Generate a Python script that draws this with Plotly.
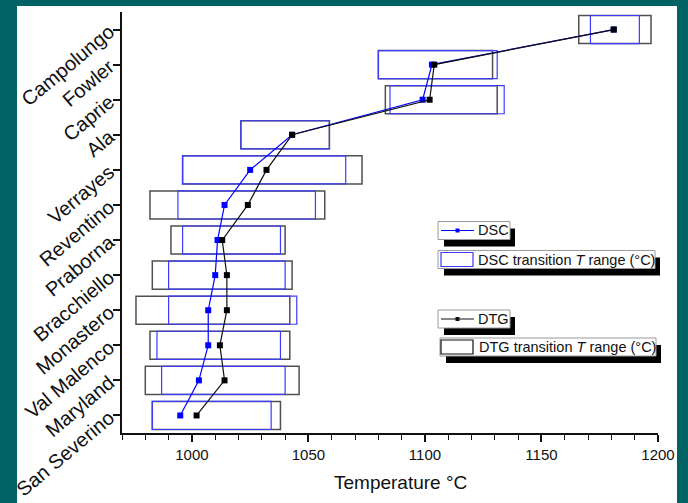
import plotly.graph_objects as go

# ---- data (bottom row first) ----
samples = ["San Severino", "Maryland", "Val Malenco", "Monastero", "Bracchiello",
           "Praborna", "Reventino", "Verrayes", "Ala", "Caprie", "Fowler", "Campolungo"]
dsc_peak = [995, 1003, 1007, 1007, 1010, 1011, 1014, 1025, 1043, 1099, 1103, 1181]
dtg_peak = [1002, 1014, 1012, 1015, 1015, 1013, 1024, 1032, 1043, 1102, 1104, 1181]
dsc_start = [983, 987, 985, 990, 990, 996, 994, 996, 1021, 1085, 1080, 1171]
dsc_end = [1034, 1040, 1038, 1045, 1040, 1038, 1053, 1066, 1059, 1134, 1131, 1192]
dtg_start = [983, 980, 982, 976, 983, 991, 982, 996, 1021, 1083, 1080, 1166]
dtg_end = [1038, 1046, 1042, 1042, 1043, 1040, 1057, 1073, 1059, 1131, 1129, 1197]
x_ticks = [1000, 1050, 1100, 1150, 1200]

FONT = "Liberation Sans, Arial, sans-serif"
TEAL = "#006262"
BLUE = "#0000ff"
BOXBLUE = "rgb(60,60,255)"
BOXGRAY = "#505050"

W, H = 688, 503
ML, MR, MT, MB = 122, 30, 12, 70
PW, PH = W - ML - MR, H - MT - MB


def px(x):
    return (x - ML) / PW


def py(y):
    return 1 - (y - MT) / PH


fig = go.Figure()

fig.add_trace(go.Bar(
    orientation="h", y=samples,
    x=[e - s for s, e in zip(dtg_start, dtg_end)], base=dtg_start,
    width=0.8, marker=dict(color="rgba(0,0,0,0)", line=dict(color=BOXGRAY, width=1.5)),
    name="DTG transition T range (°C)", showlegend=False))
fig.add_trace(go.Bar(
    orientation="h", y=samples,
    x=[e - s for s, e in zip(dsc_start, dsc_end)], base=dsc_start,
    width=0.8, marker=dict(color="rgba(0,0,0,0)", line=dict(color=BOXBLUE, width=1.2)),
    name="DSC transition T range (°C)", showlegend=False))
fig.add_trace(go.Scatter(
    x=dsc_peak, y=samples, mode="lines+markers", name="DSC",
    line=dict(color=BLUE, width=1.2),
    marker=dict(symbol="square", size=6, color=BLUE), showlegend=False))
fig.add_trace(go.Scatter(
    x=dtg_peak, y=samples, mode="lines+markers", name="DTG",
    line=dict(color="#111111", width=1.2),
    marker=dict(symbol="square", size=6, color="#000000"), showlegend=False))

shapes = []
# white page panel on teal background
shapes.append(dict(type="rect", xref="paper", yref="paper", layer="below",
                   x0=px(17), x1=px(677), y0=py(6), y1=py(520),
                   fillcolor="white", line=dict(width=0)))

annotations = []


def legend_box(x0, y0, x1, y1):
    shapes.append(dict(type="rect", xref="paper", yref="paper",
                       x0=px(x0 + 6), x1=px(x1 + 5), y0=py(y0 + 7), y1=py(y1 + 7),
                       fillcolor="black", line=dict(width=0)))
    shapes.append(dict(type="rect", xref="paper", yref="paper",
                       x0=px(x0), x1=px(x1), y0=py(y0), y1=py(y1),
                       fillcolor="white", line=dict(color="#9a9a9a", width=1)))


def legend_text(x, y, text):
    annotations.append(dict(xref="paper", yref="paper", x=px(x), y=py(y),
                            xanchor="left", yanchor="middle", showarrow=False,
                            text=text, font=dict(family=FONT, size=14.5, color="#111")))


def legend_line(y, color):
    shapes.append(dict(type="line", xref="paper", yref="paper",
                       x0=px(441), x1=px(474), y0=py(y), y1=py(y),
                       line=dict(color=color, width=1.2)))
    shapes.append(dict(type="rect", xref="paper", yref="paper",
                       x0=px(455.5), x1=px(459.5), y0=py(y - 2), y1=py(y + 2),
                       fillcolor=color, line=dict(width=0)))


def legend_rect(y0, y1, color):
    shapes.append(dict(type="rect", xref="paper", yref="paper",
                       x0=px(441), x1=px(473), y0=py(y0), y1=py(y1),
                       fillcolor="white", line=dict(color=color, width=1.2)))


# DSC
legend_box(438, 221.5, 510, 239.5)
legend_line(230.5, BLUE)
legend_text(476, 230.5, "DSC")
# DSC transition range
legend_box(438, 250.5, 655, 268.5)
legend_rect(252.5, 266.5, BOXBLUE)
legend_text(476, 259.5, "DSC transition <i>T</i> range (°C)")
# DTG
legend_box(438, 310, 510, 328)
legend_line(319, "#111111")
legend_text(476, 319, "DTG")
# DTG transition range
legend_box(440, 338, 656, 356)
legend_rect(340, 354, "#111111")
legend_text(477, 347, "DTG transition <i>T</i> range (°C)")

annotations.append(dict(xref="paper", yref="paper", x=px(400), y=py(482.5),
                        xanchor="center", yanchor="middle", showarrow=False,
                        text="Temperature °C", font=dict(family=FONT, size=19, color="#111")))

fig.update_layout(
    width=W, height=H,
    margin=dict(l=ML, r=MR, t=MT, b=MB),
    paper_bgcolor=TEAL, plot_bgcolor="white",
    barmode="overlay", showlegend=False,
    font=dict(family=FONT, color="#111"),
    shapes=shapes, annotations=annotations,
    xaxis=dict(range=[970, 1200], tickmode="array", tickvals=x_ticks,
               ticktext=[str(v) for v in x_ticks],
               showgrid=False, zeroline=False, showline=True, linecolor="#111",
               linewidth=1.5, ticks="outside", ticklen=7, tickwidth=1.5, tickcolor="#111",
               tickfont=dict(family=FONT, size=15, color="#111"),
               minor=dict(dtick=10, tick0=1000, ticks="outside", ticklen=5,
                          tickwidth=1.2, tickcolor="#111", showgrid=False),
               automargin=False),
    yaxis=dict(type="category", categoryorder="array", categoryarray=samples,
               range=[-0.5, 11.5], showgrid=False, zeroline=False, showline=True,
               linecolor="#111", linewidth=1.5, ticks="outside", ticklen=7,
               tickwidth=1.5, tickcolor="#111", tickangle=-40,
               tickfont=dict(family=FONT, size=20, color="#111"), automargin=False),
)

fig.write_html(
    "out.html",
    config={"displayModeBar": False},
    post_script="document.body.style.margin='0';document.body.style.padding='0';"
                "document.documentElement.style.background='" + TEAL + "';"
                "document.body.style.background='" + TEAL + "';",
)
